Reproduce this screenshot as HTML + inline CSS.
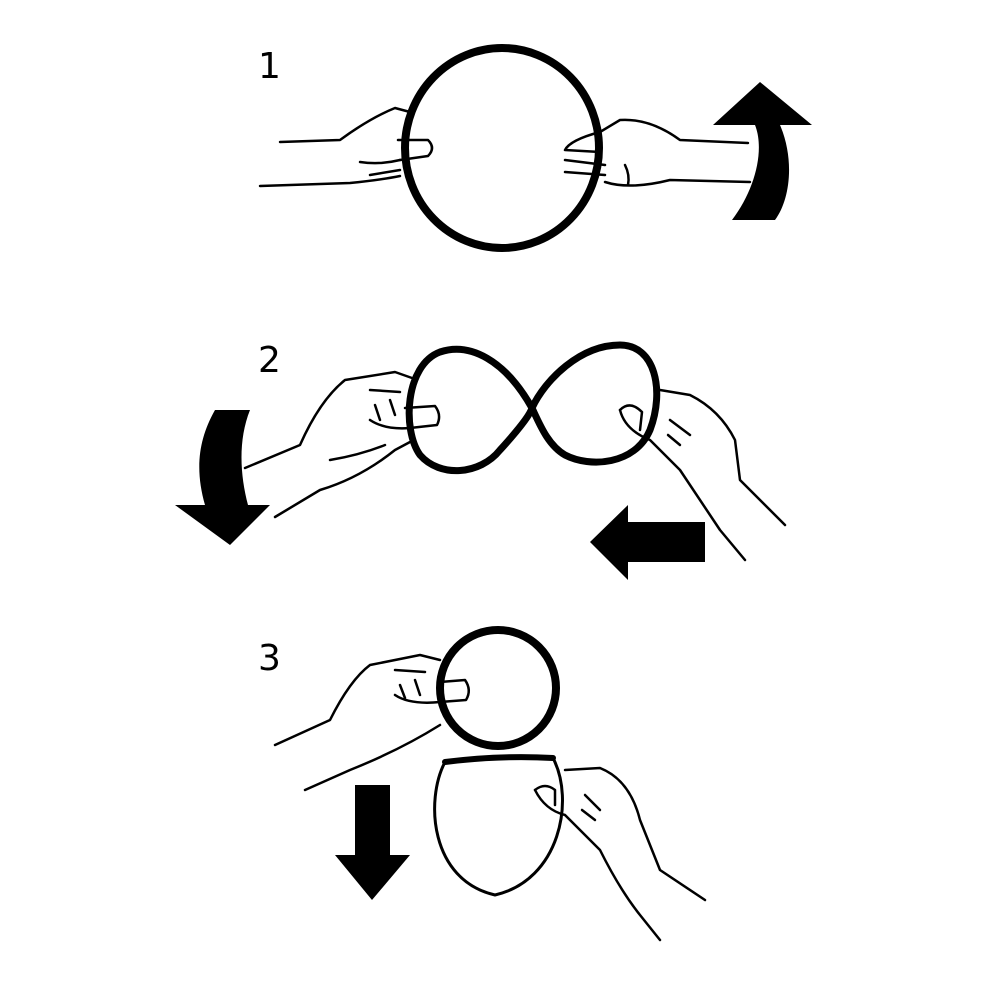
<!DOCTYPE html>
<html><head><meta charset="utf-8"><style>html,body{margin:0;padding:0;background:#fff}svg{display:block}</style></head>
<body>
<svg width="1000" height="1000" viewBox="0 0 1000 1000" xmlns="http://www.w3.org/2000/svg">
<g font-family="'DejaVu Sans','Liberation Sans',sans-serif" font-size="36" fill="#000">
<text x="258" y="78">1</text>
<text x="258" y="372">2</text>
<text x="258" y="670">3</text>
</g>
<g fill="none" stroke="#000" stroke-linecap="round" stroke-linejoin="round">
<!-- Panel 1 ring -->
<ellipse cx="502" cy="148" rx="97" ry="100" stroke-width="8"/>
<!-- left hand 1 -->
<g stroke-width="2.5">
<path d="M280 142 L340 140 Q370 118 395 108 L410 112"/>
<path d="M260 186 L350 183 Q380 180 400 176"/>
<path d="M398 140 L428 140 Q436 148 428 156 L400 160"/>
<path d="M360 162 Q380 165 400 160"/>
<path d="M370 175 L400 170"/>
<!-- right hand 1 -->
<path d="M748 143 L680 140 Q650 118 620 120 L600 132"/>
<path d="M750 182 L670 180 Q630 190 605 182"/>
<path d="M600 132 Q570 140 565 150 L600 152"/>
<path d="M565 160 L605 165"/>
<path d="M565 172 L605 175"/>
<path d="M625 165 Q630 175 628 185"/>
</g>
<!-- Panel 2 figure eight -->
<path d="M532 408 C505 360 470 342 440 352 C405 365 402 430 420 455 C440 478 480 475 500 450 C520 428 530 415 532 408 C545 380 580 345 620 345 C655 345 665 390 650 430 C635 465 590 468 565 455 C548 445 540 425 532 408 Z" stroke-width="7"/>
<g stroke-width="2.5">
<path d="M245 468 L300 445 Q320 400 345 380 L395 372 L412 378"/>
<path d="M275 517 L320 490 Q360 478 395 450 L410 442"/>
<path d="M405 408 L435 406 Q442 415 437 425 L410 428 Q385 430 370 420"/>
<path d="M330 460 Q360 455 385 445"/>
<path d="M370 390 L400 392 M375 405 L380 420 M390 400 L395 415"/>
<!-- right hand 2 -->
<path d="M660 390 L690 395 Q720 410 735 440 L740 480 L785 525"/>
<path d="M620 410 Q625 430 650 440 L680 470 Q700 500 720 530 L745 560"/>
<path d="M620 410 Q630 400 642 412 L640 430"/>
<path d="M670 420 L690 435 M668 435 L680 445"/>
</g>
<!-- Panel 3 -->
<circle cx="498" cy="688" r="58" stroke-width="8"/>
<path d="M445 762 Q500 755 553 758" stroke-width="6"/>
<path d="M445 762 C425 800 430 880 495 895 C560 880 575 800 553 758" stroke-width="3"/>
<g stroke-width="2.5">
<path d="M275 745 L330 720 Q350 680 370 665 L420 655 L440 660"/>
<path d="M305 790 L350 770 Q400 750 440 725"/>
<path d="M440 682 L465 680 Q472 690 466 700 L440 702 Q410 705 395 695"/>
<path d="M395 670 L425 672 M400 685 L405 698 M415 680 L420 695"/>
<!-- right hand 3 -->
<path d="M565 770 L600 768 Q630 780 640 820 L660 870 L705 900"/>
<path d="M535 790 Q545 810 565 815 L600 850 Q620 890 640 915 L660 940"/>
<path d="M535 790 Q545 782 555 790 L555 805"/>
<path d="M585 795 L600 810 M582 810 L595 820"/>
</g>
</g>
<g fill="#000">
<!-- Panel 1 curved arrow up -->
<path d="M732 220 C755 190 765 150 755 125 L713 125 L760 82 L812 125 L780 125 C795 160 790 200 775 220 Z"/>
<!-- Panel 2 curved arrow down-left -->
<path d="M215 410 L250 410 C238 440 240 475 248 505 L270 505 L230 545 L175 505 L205 505 C195 470 198 440 215 410 Z"/>
<!-- Panel 2 left arrow -->
<path d="M705 522 L628 522 L628 505 L590 542 L628 580 L628 562 L705 562 Z"/>
<!-- Panel 3 down arrow -->
<path d="M355 785 L390 785 L390 855 L410 855 L372 900 L335 855 L355 855 Z"/>
</g>
</svg>
</body></html>
